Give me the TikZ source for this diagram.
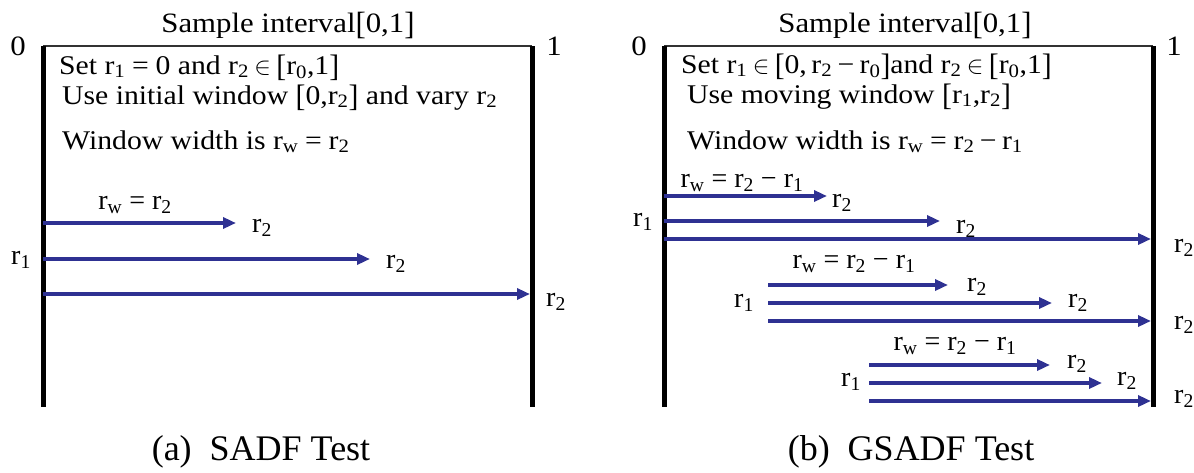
\documentclass[tikz,border=0pt]{standalone}
\usepackage{fontspec}
\setmainfont{Liberation Serif}
\newfontfamily\widefont[FakeStretch=1.1]{Liberation Serif}
\usetikzlibrary{arrows.meta}
\definecolor{arrblue}{RGB}{46,49,146}
\newcommand\rsub[1]{r\textsubscript{#1}}
\newcommand\lbk{\raisebox{-0.08em}{\scalebox{1}[1.15]{[}}}
\newcommand\rbk{\raisebox{-0.08em}{\scalebox{1}[1.15]{]}}}
\newcommand\eqs{\hspace{0.25em}=\hspace{0.25em}}
\newcommand\ins{\hspace{0.2em}$\in$\hspace{0.2em}}
\newcommand\mns{\hspace{0.2em}−\hspace{0.2em}}
\begin{document}
\begin{tikzpicture}[x=1pt,y=-1pt,
  txt/.style={font=\widefont\fontsize{27}{31}\selectfont, inner sep=0pt},
  ttl/.style={font=\widefont\fontsize{28}{32}\selectfont, inner sep=0pt},
  lab/.style={font=\fontsize{28}{32}\selectfont, inner sep=0pt},
  captxt/.style={font=\fontsize{36}{40}\selectfont, inner sep=0pt},
  wall/.style={line width=5pt, black},
  topbar/.style={line width=2pt, black!80},
  win/.style={line width=3.5pt, arrblue, -{Triangle[length=13pt,width=11pt]}},
]
\useasboundingbox (0,0) rectangle (1194,472);

% ---------- left panel ----------
\coordinate (LTL) at (43,46);
\coordinate (LBL) at (43,407);
\coordinate (LTR) at (532,46);
\coordinate (LBR) at (532,407);
\draw[topbar] (LTL) -- (LTR);
\draw[wall] (LTL) -- (LBL);
\draw[wall] (LTR) -- (LBR);

\node[ttl, anchor=base] (ltitle) at (288,32) {Sample interval\lbk0,1\rbk};
\node[ttl, anchor=base] (lzero) at (18,55) {0};
\node[ttl, anchor=base] (lone) at (554,55) {1};
\node[txt, anchor=base west] (lt1) at (59,74) {Set \rsub{1}\eqs0 and \rsub{2}\ins\lbk\rsub{0},1\rbk};
\node[txt, anchor=base west] (lt2) at (62,104) {Use initial window \lbk0,\rsub{2}\rbk{} and vary \rsub{2}};
\node[txt, anchor=base west] (lt3) at (62,149) {Window width is \rsub{w}\eqs\rsub{2}};

\coordinate (la1s) at (43,223); \coordinate (la1e) at (236,223);
\coordinate (la2s) at (43,259); \coordinate (la2e) at (370,259);
\coordinate (la3s) at (43,294); \coordinate (la3e) at (530,294);
\draw[win] (la1s) -- (la1e);
\draw[win] (la2s) -- (la2e);
\draw[win] (la3s) -- (la3e);
\node[lab] (lrw) at (135,205) {\rsub{w} = \rsub{2}};
\node[lab] (lr2a) at (262,228) {\rsub{2}};
\node[lab] (lr2b) at (396,264) {\rsub{2}};
\node[lab] (lr2c) at (556,302) {\rsub{2}};
\node[lab] (lr1) at (21,260) {\rsub{1}};

\node[captxt] (lcap) at (261,452) {(a)\ \ SADF Test};

% ---------- right panel ----------
\coordinate (RTL) at (664,46);
\coordinate (RBL) at (664,407);
\coordinate (RTR) at (1153,46);
\coordinate (RBR) at (1153,407);
\draw[topbar] (RTL) -- (RTR);
\draw[wall] (RTL) -- (RBL);
\draw[wall] (RTR) -- (RBR);

\node[ttl, anchor=base] (rtitle) at (905,32) {Sample interval\lbk0,1\rbk};
\node[ttl, anchor=base] (rzero) at (639,55) {0};
\node[ttl, anchor=base] (rone) at (1174,55) {1};
\node[txt, anchor=base west] (rt1) at (681,73) {Set \rsub{1}\ins\lbk0,\,\rsub{2}\mns\rsub{0}\rbk and \rsub{2}\ins\lbk\rsub{0},1\rbk};
\node[txt, anchor=base west] (rt2) at (687,103) {Use moving window \lbk\rsub{1},\rsub{2}\rbk};
\node[txt, anchor=base west] (rt3) at (687,149) {Window width is \rsub{w}\eqs\rsub{2}\mns\rsub{1}};

% group 1
\coordinate (g1as) at (664,196); \coordinate (g1ae) at (827,196);
\coordinate (g1bs) at (664,221); \coordinate (g1be) at (940,221);
\coordinate (g1cs) at (664,239); \coordinate (g1ce) at (1151,239);
\draw[win] (g1as) -- (g1ae);
\draw[win] (g1bs) -- (g1be);
\draw[win] (g1cs) -- (g1ce);
\node[lab] (g1rw) at (742,183) {\rsub{w} = \rsub{2} − \rsub{1}};
\node[lab] (g1r2a) at (842,203) {\rsub{2}};
\node[lab] (g1r2b) at (966,229) {\rsub{2}};
\node[lab] (g1r2c) at (1184,248) {\rsub{2}};
\node[lab] (g1r1) at (643,222) {\rsub{1}};

% group 2
\coordinate (g2as) at (768,285); \coordinate (g2ae) at (948,285);
\coordinate (g2bs) at (768,303); \coordinate (g2be) at (1052,303);
\coordinate (g2cs) at (768,321); \coordinate (g2ce) at (1151,321);
\draw[win] (g2as) -- (g2ae);
\draw[win] (g2bs) -- (g2be);
\draw[win] (g2cs) -- (g2ce);
\node[lab] (g2rw) at (854,264) {\rsub{w} = \rsub{2} − \rsub{1}};
\node[lab] (g2r2a) at (977,287) {\rsub{2}};
\node[lab] (g2r2b) at (1078,303) {\rsub{2}};
\node[lab] (g2r2c) at (1184,325) {\rsub{2}};
\node[lab] (g2r1) at (744,303) {\rsub{1}};

% group 3
\coordinate (g3as) at (869,365); \coordinate (g3ae) at (1050,365);
\coordinate (g3bs) at (869,383); \coordinate (g3be) at (1102,383);
\coordinate (g3cs) at (869,401); \coordinate (g3ce) at (1151,401);
\draw[win] (g3as) -- (g3ae);
\draw[win] (g3bs) -- (g3be);
\draw[win] (g3cs) -- (g3ce);
\node[lab] (g3rw) at (955,346) {\rsub{w} = \rsub{2} − \rsub{1}};
\node[lab] (g3r2a) at (1077,364) {\rsub{2}};
\node[lab] (g3r2b) at (1127,381) {\rsub{2}};
\node[lab] (g3r2c) at (1184,399) {\rsub{2}};
\node[lab] (g3r1) at (851,382) {\rsub{1}};

\node[captxt] (rcap) at (911,452) {(b)\ \ GSADF Test};
\end{tikzpicture}
\end{document}
